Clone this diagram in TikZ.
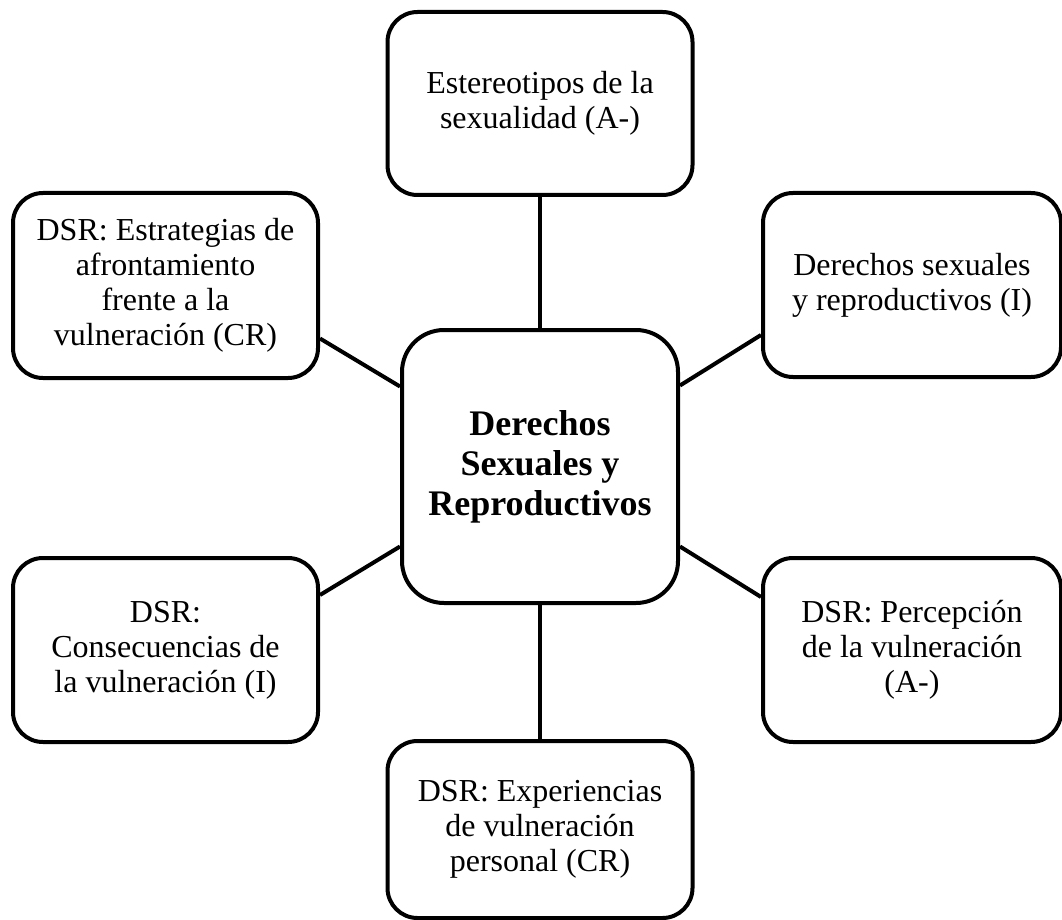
\documentclass[tikz,border=0pt]{standalone}
\usepackage{fontspec}
\setmainfont{Liberation Serif}
\begin{document}
\begin{tikzpicture}[x=1pt,y=-1pt,
  topic/.style={draw=black, line width=4pt, rounded corners=30pt, fill=white,
    inner sep=0pt, align=center, font=\fontsize{32}{35}\selectfont},
  hub/.style={draw=black, line width=4pt, rounded corners=42pt, fill=white,
    inner sep=0pt, align=center, font=\fontsize{36}{40}\selectfont\bfseries},
  link/.style={line width=4pt}]
\useasboundingbox (0,0) rectangle (1062,920);

% central concept
\node[hub, minimum width=276pt, minimum height=273pt] (c) at (540,466.5)
  {Derechos\\Sexuales y\\Reproductivos};

% surrounding categories
\node[topic, minimum width=305pt, minimum height=183pt] (t) at (540,103.5)
  {Estereotipos de la\\sexualidad (A-)};
\node[topic, minimum width=305pt, minimum height=185pt] (tl) at (165.5,285.5)
  {DSR: Estrategias de\\afrontamiento\\frente a la\\vulneración (CR)};
\node[topic, minimum width=298pt, minimum height=184pt] (tr) at (912,285)
  {Derechos sexuales\\y reproductivos (I)};
\node[topic, minimum width=305pt, minimum height=184pt] (bl) at (165.5,650)
  {DSR:\\Consecuencias de\\la vulneración (I)};
\node[topic, minimum width=298pt, minimum height=184pt] (br) at (912,650)
  {DSR: Percepción\\de la vulneración\\(A-)};
\node[topic, minimum width=305pt, minimum height=177pt] (b) at (540,829.5)
  {DSR: Experiencias\\de vulneración\\personal (CR)};

% connectors
\draw[link] (t.south) -- (c.north);
\draw[link] (c.south) -- (b.north);
\draw[link] ([yshift=-53pt]tl.east) -- ([yshift=80pt]c.west);
\draw[link] ([yshift=-50pt]tr.west) -- ([yshift=81pt]c.east);
\draw[link] ([yshift=55pt]bl.east) -- ([yshift=-80pt]c.west);
\draw[link] ([yshift=53pt]br.west) -- ([yshift=-80pt]c.east);
\end{tikzpicture}
\end{document}
